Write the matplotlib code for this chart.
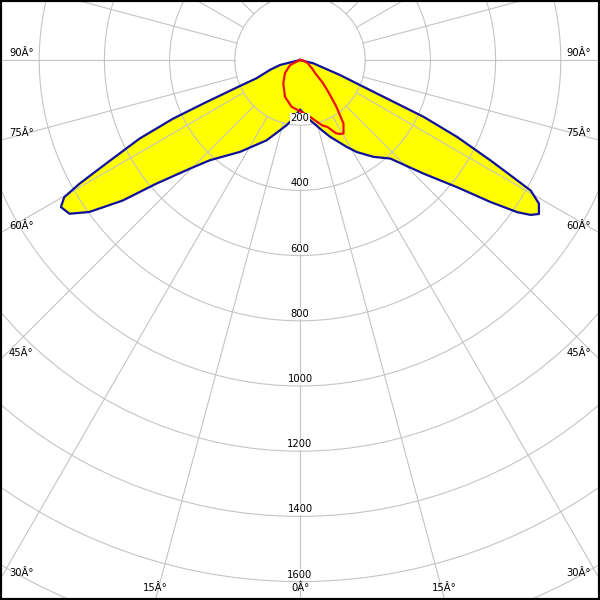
import numpy as np
import matplotlib
matplotlib.use("Agg")
import matplotlib.pyplot as plt
from matplotlib.patches import Circle

# luminous intensity (cd) vs gamma angle (deg, 0 = straight down, negative = left)
blue_gamma = [-90, -76, -72, -67.2, -66.6, -65.8, -65.2, -63.9, -61.9, -60.7, -59.8,
              -58.4, -56.3, -54.2, -51.6, -49.3, -45.4, -42, -33.2, -22.6, -15.9,
              -11.6, -6.6, 0, 9.5, 17.2, 21.4, 28.3, 31.7, 37.2, 42.5, 47.4, 51,
              53.3, 55, 56.1, 57.2, 59, 60.5, 61, 62.2, 63.9, 65.3, 66, 67.1, 69.4,
              76, 90]
blue_cd = [0, 63, 95, 145, 200, 316, 429, 548, 674, 776, 837,
           861, 850, 797, 694, 582, 475, 414, 337, 267, 224,
           204, 181, 152, 187, 225, 253, 303, 332, 373, 410, 515, 620,
           729, 814, 852, 872, 855, 813, 762, 661, 537, 418, 303, 211, 131,
           42, 0]

red_gamma = [-90, -63, -49, -35.6, -22.2, -10.1, 0, 10, 18.8, 22.3, 26.1, 28,
             30.6, 34.4, 38, 41.7, 45, 48.4, 55, 68, 80, 90]
red_cd = [0, 34, 61, 88, 122, 146, 157, 177, 212, 222, 250, 257,
          262, 236, 180, 130, 98, 65, 45, 25, 10, 0]

ring_values = [200, 400, 600, 800, 1000, 1200, 1400, 1600]
angle_labels = ["90Â°", "75Â°", "60Â°", "45Â°", "30Â°", "15Â°", "0Â°"]
angle_values = [90, 75, 60, 45, 30, 15, 0]


def to_xy(gamma, cd):
    g = np.radians(gamma)
    cd = np.asarray(cd, dtype=float)
    return cd * np.sin(g), -cd * np.cos(g)


px = 0.326  # pixels per cd
xmax = 300 / px
ytop = 60 / px
ybot = -540 / px

fig = plt.figure(figsize=(6, 6), dpi=100)
ax = fig.add_axes([0, 0, 1, 1])
ax.set_xlim(-xmax, xmax)
ax.set_ylim(ybot, ytop)
ax.set_xticks([])
ax.set_yticks([])
for s in ax.spines.values():
    s.set_linewidth(3)
    s.set_color("black")

grid = "#c4c4c4"
# rings
for r in range(200, 2400, 200):
    ax.add_patch(Circle((0, 0), r, fill=False, ec=grid, lw=0.8, zorder=2))
# rays every 15 deg, starting at the 200 ring
for a in range(0, 360, 15):
    x0, y0 = to_xy(a, 200)
    x1, y1 = to_xy(a, 2600)
    ax.plot([x0, x1], [y0, y1], color=grid, lw=0.8, zorder=2)

bx, by = to_xy(blue_gamma, blue_cd)
ax.fill(bx, by, color="#ffff00", zorder=1)
ax.plot(np.append(bx, bx[0]), np.append(by, by[0]), color="#1010a0", lw=1.6, zorder=3)

rx, ry = to_xy(red_gamma, red_cd)
ax.plot(np.append(rx, rx[0]), np.append(ry, ry[0]), color="#ee1111", lw=1.6, zorder=4)

# ring labels
for r in ring_values:
    ax.annotate(str(r), xy=(0, -r), xytext=(0, 5), textcoords="offset points",
                ha="center", va="center", fontsize=7.2, zorder=5,
                bbox=dict(boxstyle="square,pad=0.05", fc="white", ec="none"))

# angle labels at the frame
for lab, a in zip(angle_labels, angle_values):
    if a == 0:
        ax.annotate(lab, xy=(0, ybot), xytext=(0, 8.5), textcoords="offset points",
                    ha="center", va="center", fontsize=7.2, zorder=5)
        continue
    t = np.tan(np.radians(a))
    yexit = -xmax / t
    if yexit >= ybot:
        ax.annotate(lab, xy=(-xmax, yexit), xytext=(6.5, 5), textcoords="offset points",
                    ha="left", va="center", fontsize=7.2, zorder=5)
        ax.annotate(lab, xy=(xmax, yexit), xytext=(-6.5, 5), textcoords="offset points",
                    ha="right", va="center", fontsize=7.2, zorder=5)
    else:
        xexit = -ybot * t
        ax.annotate(lab, xy=(-xexit, ybot), xytext=(0, 8.5), textcoords="offset points",
                    ha="center", va="center", fontsize=7.2, zorder=5)
        ax.annotate(lab, xy=(xexit, ybot), xytext=(0, 8.5), textcoords="offset points",
                    ha="center", va="center", fontsize=7.2, zorder=5)

fig.savefig("out.png", dpi=100)
